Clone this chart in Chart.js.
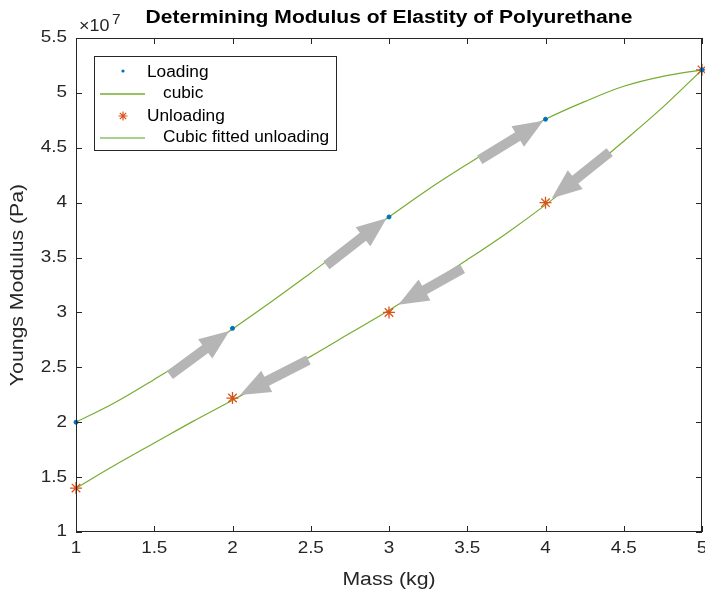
<!DOCTYPE html>
<html>
<head>
<meta charset="utf-8">
<script src="https://cdn.jsdelivr.net/npm/chart.js@4.4.1/dist/chart.umd.min.js"></script>
<style>
  html, body { margin: 0; padding: 0; background: #fff; }
  #wrap { width: 705px; height: 599px; }
</style>
</head>
<body>
<div id="wrap"><canvas id="modulus-chart" width="705" height="599"></canvas></div>
<script>
// measured points (Pa)
const massKg = [1, 2, 3, 4, 5];
const loadingPa = [2.00e7, 2.855e7, 3.87e7, 4.76e7, 5.21e7];
const unloadingPa = [1.40e7, 2.22e7, 3.00e7, 4.00e7, 5.21e7];

// fitted curves, every 0.25 kg
const fitMassKg = [1, 1.25, 1.5, 1.75, 2, 2.25, 2.5, 2.75, 3, 3.25, 3.5, 3.75, 4, 4.25, 4.5, 4.75, 5];
const cubicLoadingPa = [2.00e7, 2.18e7, 2.39e7, 2.61e7, 2.85e7, 3.10e7, 3.36e7, 3.62e7, 3.87e7,
    4.12e7, 4.35e7, 4.57e7, 4.76e7, 4.92e7, 5.06e7, 5.15e7, 5.21e7];
const cubicUnloadingPa = [1.40e7, 1.61e7, 1.81e7, 2.01e7, 2.20e7, 2.40e7, 2.60e7, 2.81e7, 3.02e7,
    3.25e7, 3.48e7, 3.72e7, 3.98e7, 4.26e7, 4.56e7, 4.87e7, 5.21e7];

// direction arrows: [tailMass, tailPa, tipMass, tipPa]
const arrows = [
    [1.60, 2.43e7, 1.98, 2.83e7],
    [2.60, 3.43e7, 2.985, 3.857e7],
    [3.58, 4.39e7, 3.986, 4.746e7],
    [4.41, 4.46e7, 4.04, 4.04e7],
    [3.47, 3.40e7, 3.06, 3.07e7],
    [2.485, 2.567e7, 2.048, 2.248e7],
];

const xTicks = [1, 1.5, 2, 2.5, 3, 3.5, 4, 4.5, 5];
const yTicks = [1, 1.5, 2, 2.5, 3, 3.5, 4, 4.5, 5, 5.5];

const FONT = "'Liberation Sans', Arial, Helvetica, sans-serif";
const AXIS = "#262626";

function pts(xs, ys) {
    return xs.map((x, i) => ({ x, y: ys[i] }));
}

// the reference text is a bit wider than Arial, so stretch it horizontally
function txt(c, s, x, y, font, align, stretch, color, rot) {
    c.save();
    c.translate(x, y);
    if (rot) c.rotate(rot);
    c.scale(stretch, 1);
    c.font = font;
    c.fillStyle = color || AXIS;
    c.textAlign = align;
    c.textBaseline = "middle";
    c.fillText(s, 0, 0);
    c.restore();
}

const matlabLook = {
    id: "matlabLook",
    beforeDraw(chart) {
        const c = chart.ctx;
        c.save();
        c.fillStyle = "#fff";
        c.fillRect(0, 0, chart.width, chart.height);
        c.restore();
    },
    afterDatasetsDraw(chart) {
        const c = chart.ctx;
        const xs = chart.scales.x, ys = chart.scales.y;
        c.save();
        c.fillStyle = "#b5b5b5";
        for (const [x0, y0, x1, y1] of arrows) {
            const ax = xs.getPixelForValue(x0), ay = ys.getPixelForValue(y0);
            const bx = xs.getPixelForValue(x1), by = ys.getPixelForValue(y1);
            const len = Math.hypot(bx - ax, by - ay);
            const ang = Math.atan2(by - ay, bx - ax);
            const headL = 30, headW = 12, shaftW = 5;
            c.save();
            c.translate(ax, ay);
            c.rotate(ang);
            c.beginPath();
            c.moveTo(0, -shaftW);
            c.lineTo(len - headL, -shaftW);
            c.lineTo(len - headL, -headW);
            c.lineTo(len, 0);
            c.lineTo(len - headL, headW);
            c.lineTo(len - headL, shaftW);
            c.lineTo(0, shaftW);
            c.closePath();
            c.fill();
            c.restore();
        }
        c.restore();
    },
    afterDraw(chart) {
        const c = chart.ctx;
        const a = chart.chartArea;
        const xs = chart.scales.x, ys = chart.scales.y;
        c.save();
        c.strokeStyle = AXIS;
        c.lineWidth = 1;
        c.strokeRect(a.left + 0.5, a.top + 0.5, a.right - a.left - 1, a.bottom - a.top - 1);
        c.beginPath();
        const tl = 6;
        for (const t of xTicks) {
            const px = Math.round(xs.getPixelForValue(t)) + 0.5;
            c.moveTo(px, a.bottom); c.lineTo(px, a.bottom - tl);
            c.moveTo(px, a.top); c.lineTo(px, a.top + tl);
        }
        for (const t of yTicks) {
            const py = Math.round(ys.getPixelForValue(t * 1e7)) + 0.5;
            c.moveTo(a.left, py); c.lineTo(a.left + tl, py);
            c.moveTo(a.right, py); c.lineTo(a.right - tl, py);
        }
        c.stroke();

        // tick labels
        const tickFont = "16px " + FONT;
        for (const t of xTicks) {
            txt(c, String(t), xs.getPixelForValue(t), 549, tickFont, "center", 1.18);
        }
        for (const t of yTicks) {
            txt(c, String(t), 67, ys.getPixelForValue(t * 1e7), tickFont, "right", 1.18);
        }

        // axis titles and title
        const labFont = "18px " + FONT;
        txt(c, "Mass (kg)", (a.left + a.right) / 2, 580, labFont, "center", 1.18);
        txt(c, "Youngs Modulus (Pa)", 18, (a.top + a.bottom) / 2, labFont, "center", 1.18, AXIS, -Math.PI / 2);
        txt(c, "Determining Modulus of Elastity of Polyurethane", (a.left + a.right) / 2, 18,
            "bold 18px " + FONT, "center", 1.17, "#000");

        // exponent
        txt(c, "\u00d710", 79, 27, "16px " + FONT, "left", 1.12);
        txt(c, "7", 112, 20, "14px " + FONT, "left", 1.1);

        // legend
        const lx = 94, ly = 56, lw = 242, lh = 94;
        c.fillStyle = "#fff";
        c.fillRect(lx, ly, lw, lh);
        c.strokeStyle = AXIS;
        c.lineWidth = 1;
        c.strokeRect(lx + 0.5, ly + 0.5, lw, lh);
        const rows = [
            { y: 73, label: "Loading", tx: 147, kind: "dot" },
            { y: 94, label: "cubic", tx: 163, kind: "line", color: "#77ac30" },
            { y: 117, label: "Unloading", tx: 147, kind: "star" },
            { y: 138, label: "Cubic fitted unloading", tx: 163, kind: "line", color: "#a9d18e" },
        ];
        for (const r of rows) {
            if (r.kind === "line") {
                c.strokeStyle = r.color;
                c.lineWidth = r.color === "#a9d18e" ? 2.2 : 1.5;
                c.beginPath();
                c.moveTo(100, r.y); c.lineTo(145, r.y);
                c.stroke();
            } else if (r.kind === "dot") {
                c.fillStyle = "#0072bd";
                c.beginPath();
                c.arc(123, r.y - 2, 1.6, 0, Math.PI * 2);
                c.fill();
            } else {
                c.strokeStyle = "#d95319";
                c.lineWidth = 1.2;
                c.beginPath();
                for (let k = 0; k < 4; k++) {
                    const an = k * Math.PI / 4;
                    c.moveTo(123 - 4.5 * Math.cos(an), r.y - 1 - 4.5 * Math.sin(an));
                    c.lineTo(123 + 4.5 * Math.cos(an), r.y - 1 + 4.5 * Math.sin(an));
                }
                c.stroke();
            }
            txt(c, r.label, r.tx, r.y, "16px " + FONT, "left", 1.08, "#000");
        }
        c.restore();
    },
};

new Chart(document.getElementById("modulus-chart"), {
    type: "scatter",
    data: {
        datasets: [
            {
                label: "Loading",
                data: pts(massKg, loadingPa),
                backgroundColor: "#0072bd",
                borderColor: "#0072bd",
                pointRadius: 2,
                showLine: false,
                clip: false,
                order: 0,
            },
            {
                label: "cubic",
                data: pts(fitMassKg, cubicLoadingPa),
                borderColor: "#77ac30",
                borderWidth: 1.2,
                pointRadius: 0,
                showLine: true,
                tension: 0.35,
                order: 1,
            },
            {
                label: "Unloading",
                data: pts(massKg, unloadingPa),
                pointStyle: "star",
                borderColor: "#d95319",
                backgroundColor: "#d95319",
                borderWidth: 1.3,
                pointRadius: 6,
                showLine: false,
                clip: false,
                order: 0,
            },
            {
                label: "Cubic fitted unloading",
                data: pts(fitMassKg, cubicUnloadingPa),
                borderColor: "#77ac30",
                borderWidth: 1.2,
                pointRadius: 0,
                showLine: true,
                tension: 0.35,
                order: 1,
            },
        ],
    },
    options: {
        responsive: false,
        animation: false,
        events: [],
        layout: { autoPadding: false, padding: { top: 38, right: 3, left: 0, bottom: 0 } },
        plugins: {
            legend: { display: false },
            title: { display: false },
            tooltip: { enabled: false },
        },
        scales: {
            x: {
                type: "linear",
                min: 1,
                max: 5,
                afterFit: s => { s.height = 67; s.paddingLeft = 0; s.paddingRight = 0; },
                grid: { display: false, drawTicks: false },
                border: { display: false },
                ticks: { display: false },
            },
            y: {
                type: "linear",
                min: 1e7,
                max: 5.5e7,
                afterFit: s => { s.width = 76; s.paddingTop = 0; s.paddingBottom = 0; },
                grid: { display: false, drawTicks: false },
                border: { display: false },
                ticks: { display: false },
            },
        },
    },
    plugins: [matlabLook],
});
</script>
</body>
</html>
